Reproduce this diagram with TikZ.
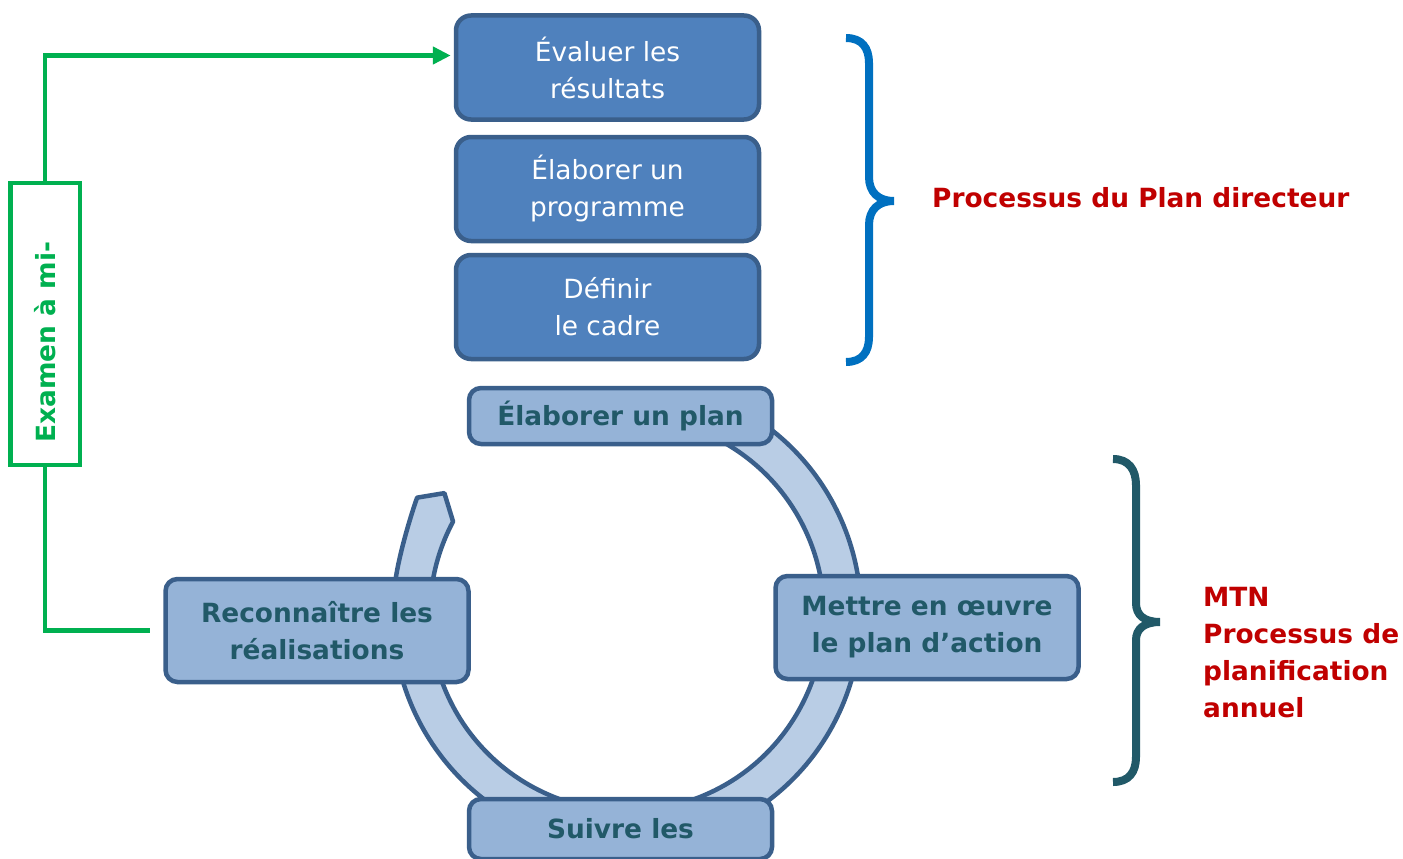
\documentclass[tikz,border=0pt]{standalone}
\usepackage{fontspec}
\setmainfont{DejaVu Sans}
\usepackage{tikz}
\usepackage{xcolor}
\usetikzlibrary{arrows.meta}
\definecolor{planfill}{HTML}{4F81BD}
\definecolor{boxline}{HTML}{3A5F8B}
\definecolor{cyclefill}{HTML}{95B3D7}
\definecolor{ringfill}{HTML}{B9CDE5}
\definecolor{cycletext}{HTML}{215968}
\definecolor{reviewgreen}{HTML}{00B050}
\definecolor{bracemain}{HTML}{0070C0}
\definecolor{braceteal}{HTML}{215968}
\definecolor{notered}{HTML}{C00000}
\newcommand{\bigtext}{\fontsize{26.4}{37}\selectfont}
\tikzset{
  planbox/.style={draw=boxline, fill=planfill, line width=4.5pt, rounded corners=15pt,
    minimum width=303pt, minimum height=104pt, inner sep=0pt,
    align=center, text=white, font=\bigtext},
  cyclebox/.style={draw=boxline, fill=cyclefill, line width=4.5pt, rounded corners=12pt,
    minimum width=303pt, inner sep=0pt,
    align=center, text=cycletext, font=\bigtext\bfseries},
  note/.style={text=notered, font=\bigtext\bfseries, align=left, inner sep=0pt}
}

\begin{document}
\begin{tikzpicture}[x=1pt,y=-1pt]
            \useasboundingbox (0,0) rectangle (1403,859);

            % ring of the yearly cycle
            \draw[draw=boxline, fill=ringfill, line width=4.5pt, line join=round, shift={(627,614)}]
                (290:234) arc[start angle=290, end angle=550, radius=234]
                .. controls +(4.4,-24.6) and +(-7,20) .. (569:240) -- (573.5:219) -- (568:197)
                arc[start angle=568, end angle=290, radius=197] -- cycle;

            \node[planbox] (eval) at (607.5,67.5) {Évaluer les\\résultats};
            \node[planbox] (prog) at (607.5,189) {Élaborer un\\programme};
            \node[planbox] (frame) at (607.5,307) {Définir\\le cadre};

            \node[cyclebox, minimum height=56pt] (plan) at (620.5,416) {Élaborer un plan};
            \node[cyclebox, minimum height=103pt] (act) at (927,627.5) {Mettre en œuvre\\le plan d’action};
            \node[cyclebox, minimum height=60pt] (track) at (620.5,829) {Suivre les};
            \node[cyclebox, minimum height=103pt] (rec) at (317,630.5) {Reconnaître les\\réalisations};

            % mid-term review
            \node[draw=reviewgreen, line width=4.5pt, minimum width=69.5pt, minimum height=282pt, inner sep=0pt] (exam) at (45,324) {};
            \node[rotate=90, text=reviewgreen, font=\bigtext\bfseries] (examtext) at (45,342) {Examen à mi-};
            \draw[reviewgreen, line width=4.5pt] ([xshift=-13.5pt]rec.west) -| (exam.south);
            \draw[reviewgreen, line width=4.5pt, -{Triangle[length=18pt,width=17pt]}, shorten >=3pt]
                (exam.north) |- ([yshift=12pt]eval.west);

            % braces
            \draw[bracemain, line width=8pt] (846,38) .. controls (862,38) and (869,48) .. (869,63) -- (869,177)
                .. controls (869,192) and (878,201) .. (894,201)
                .. controls (878,201) and (869,210) .. (869,225) -- (869,337)
                .. controls (869,352) and (862,362) .. (846,362);
            \draw[braceteal, line width=8pt] (1113,459) .. controls (1129,459) and (1136,470) .. (1136,485) -- (1136,603)
                .. controls (1136,615) and (1144,622) .. (1160,622)
                .. controls (1144,622) and (1136,629) .. (1136,640) -- (1136,757)
                .. controls (1136,772) and (1129,782) .. (1113,782);

            \node[note, anchor=west] (master) at (932,198) {Processus du Plan directeur};
            \node[note, anchor=north west] (mtn) at (1203,587) {MTN\\Processus de\\planification\\annuel};
        \end{tikzpicture}
\end{document}
